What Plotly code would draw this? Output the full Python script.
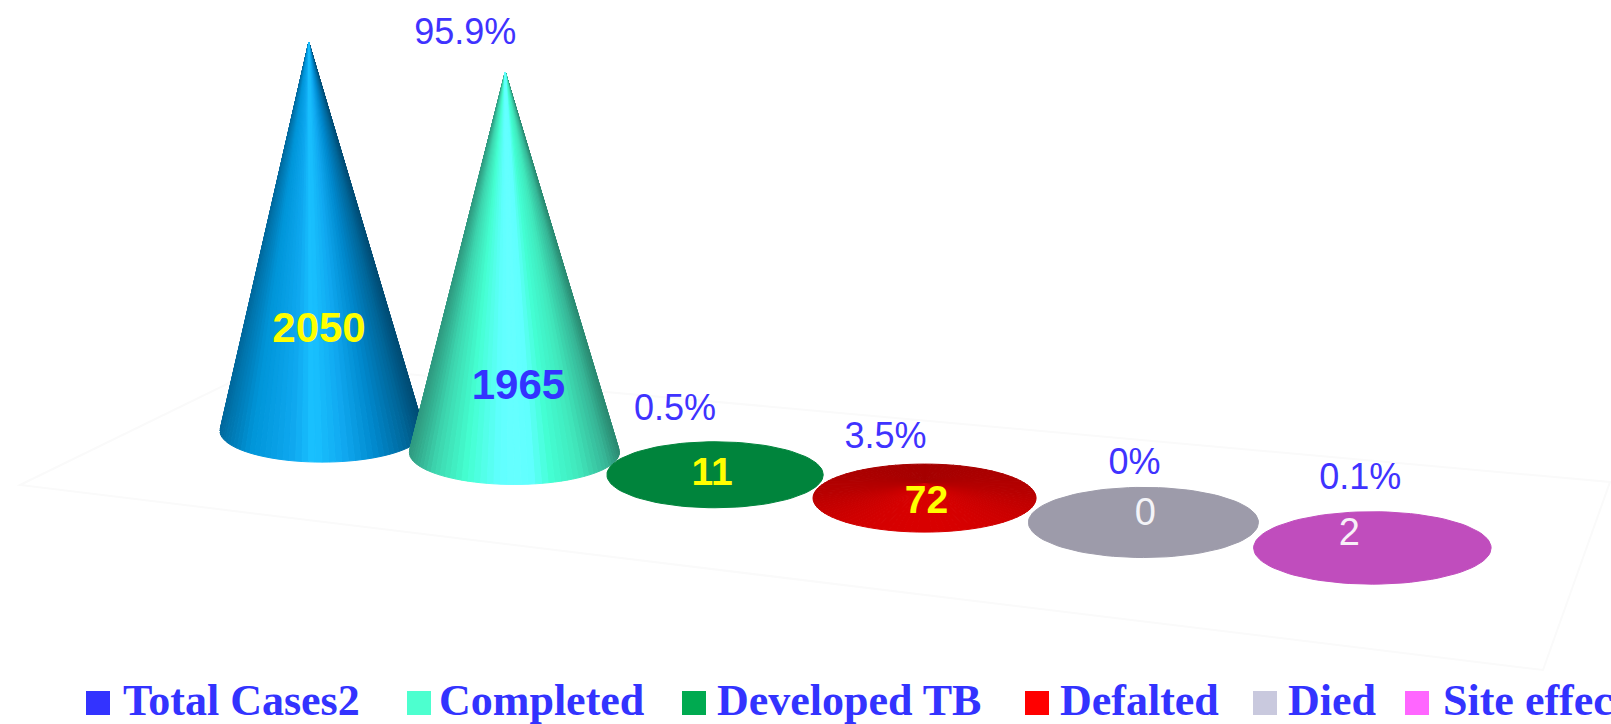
import math
import plotly.graph_objects as go

# ---- data ----
categories = ["Total Cases2", "Completed", "Developed TB", "Defalted", "Died", "Site effects"]
values = [2050, 1965, 11, 72, 0, 2]
percent_labels = ["", "95.9%", "0.5%", "3.5%", "0%", "0.1%"]
legend_colors = ["#3333ff", "#4dffcf", "#00aa50", "#ff0000", "#c9c9de", "#ff66ff"]

# ---- styles ----
value_colors = ["#ffff00", "#3333ff", "#ffff00", "#ffff00", "#f4f4f8", "#f8f0f8"]
value_sizes = [42, 42, 39, 39, 38, 38]
value_offset_x = [-3, 4, -3, 2, 2, -23]
value_offset_y = [-100, -64, 0, 5, -7, -12]
pct_offset_x = [0, -40, -40, -39, -9, -12]
pct_offset_y = [0, -37, -62, -45, -57, -68]
cone_lean = [-0.034, -0.024, 0, 0, 0, 0]
shade_axis = ["across", "across", None, "depth", None, None]
shade_stops = [
    [(0, "#00689c"), (.03, "#0074ac"), (.15, "#0095d8"), (.36, "#0fa8f0"), (.46, "#1ac2ff"),
     (.61, "#10a8f0"), (.77, "#0088cc"), (.92, "#006699"), (1, "#004c74")],
    [(0, "#2f9a80"), (.12, "#3dd5ae"), (.27, "#44ffd0"), (.43, "#60ffff"), (.5, "#66ffff"),
     (.58, "#60ffff"), (.67, "#44ffd4"), (.81, "#40e8bc"), (.94, "#37b697"), (1, "#2b8a72")],
    [(0, "#00843c")],
    [(0, "#a60000"), (.45, "#b80000"), (1, "#d80000")],
    [(0, "#9d9baa")],
    [(0, "#c04dbd")],
]
draw_order = [0, 1, 2, 4, 3, 5]
legend_square_x = [98, 419, 694, 1037, 1265, 1417]
legend_text_x = [123, 439, 717, 1060, 1288, 1443]
legend_y = 704
BLUE = "#3f33ff"

# projection of the tilted, receding plot floor
X0, X_STEP, Y0, Y_STEP, DEPTH = 322, 181.8, 431, 12.1, -0.0206
RADIUS, FLATNESS, Z_SCALE = 102, 0.305, 0.1895


def hexrgb(c):
    return tuple(int(c[k:k + 2], 16) for k in (1, 3, 5))


def ramp(stops, t):
    if len(stops) == 1:
        return stops[0][1]
    for (a, ca), (b, cb) in zip(stops, stops[1:]):
        if t <= b:
            f = (t - a) / (b - a) if b > a else 0
            p, q = hexrgb(ca), hexrgb(cb)
            return "rgb(%d,%d,%d)" % tuple(round(u + (v - u) * f) for u, v in zip(p, q))
    return stops[-1][1]


fig = go.Figure()

# faint floor outline as a background decoration
fig.add_shape(type="path", path="M 20 485 L 272 362 L 1610 482 L 1543 670 Z",
              line=dict(color="#fafafa", width=2), fillcolor="rgba(0,0,0,0)", layer="below")


def project(i):
    w = 1 + DEPTH * i
    return (X0 + X_STEP * i) / w, (Y0 + Y_STEP * i) / w, 1 / w


def add_poly(xs, ys, color):
    fig.add_trace(go.Scatter(x=xs, y=ys, mode="lines", fill="toself", fillcolor=color,
                             line=dict(color=color, width=1), hoverinfo="skip", showlegend=False))


N = 96
for i in draw_order:
    cx, cy, s = project(i)
    hw = RADIUS * s ** 1.4
    hh = hw * FLATNESS
    height = Z_SCALE * values[i] * s
    ax, ay = cx + cone_lean[i] * height, cy - height
    stops = shade_stops[i]
    if shade_axis[i] is None:
        th = [2 * math.pi * k / N for k in range(N + 1)]
        add_poly([cx + hw * math.cos(t) for t in th], [cy + hh * math.sin(t) for t in th], stops[0][1])
        continue
    slices = []
    for k in range(N):
        a, b = 2 * math.pi * k / N, 2 * math.pi * (k + 1) / N
        m = (a + b) / 2
        slices.append((math.sin(m), a, b, m))
    slices.sort()
    for sm, a, b, m in slices:
        t = (math.cos(m) + 1) / 2 if shade_axis[i] == "across" else (sm + 1) / 2
        add_poly([ax, cx + hw * math.cos(a), cx + hw * math.cos(b), ax],
                 [ay, cy + hh * math.sin(a), cy + hh * math.sin(b), ay], ramp(stops, t))

# value labels and percentage labels
for i, v in enumerate(values):
    cx, cy, s = project(i)
    fig.add_trace(go.Scatter(
        x=[cx + value_offset_x[i]], y=[cy + value_offset_y[i]], mode="text", text=[str(v)],
        textposition="middle center", cliponaxis=False, hoverinfo="skip", showlegend=False,
        textfont=dict(family="Liberation Sans", size=value_sizes[i], color=value_colors[i],
                      weight="bold" if i < 4 else "normal")))
    if percent_labels[i]:
        height = Z_SCALE * v * s
        fig.add_trace(go.Scatter(
            x=[cx + cone_lean[i] * height + pct_offset_x[i]], y=[cy - height + pct_offset_y[i]],
            mode="text", text=[percent_labels[i]], textposition="middle center",
            cliponaxis=False, hoverinfo="skip", showlegend=False,
            textfont=dict(family="Liberation Sans", size=36, color=BLUE)))

# legend row, running off the right edge as in the reference
for name, color, sx, tx in zip(categories, legend_colors, legend_square_x, legend_text_x):
    fig.add_trace(go.Scatter(x=[sx], y=[703], mode="markers", hoverinfo="skip", showlegend=False,
                             marker=dict(symbol="square", size=24, color=color)))
    fig.add_trace(go.Scatter(x=[tx], y=[legend_y], mode="text", text=[name], textposition="middle right",
                             cliponaxis=False, hoverinfo="skip", showlegend=False,
                             textfont=dict(family="Liberation Serif", size=44, color="#3333ff", weight="bold")))

fig.update_layout(
    width=1611, height=724, margin=dict(l=0, r=0, t=0, b=0),
    paper_bgcolor="white", plot_bgcolor="white", showlegend=False,
    xaxis=dict(range=[0, 1611], visible=False, fixedrange=True),
    yaxis=dict(range=[724, 0], visible=False, fixedrange=True),
)
fig.write_html("out.html", config={"displayModeBar": False},
               post_script="document.body.style.margin='0';document.body.style.overflow='hidden';")
